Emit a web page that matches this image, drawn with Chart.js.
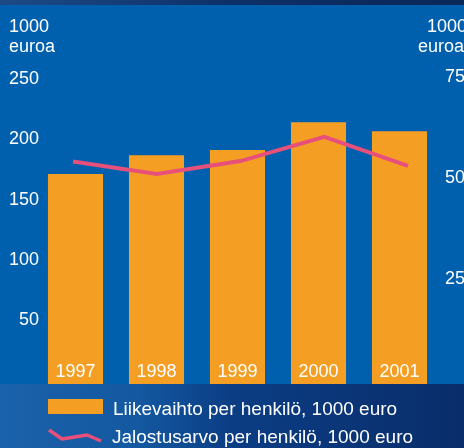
<!DOCTYPE html>
<html>
<head>
<meta charset="utf-8">
<script src="https://cdn.jsdelivr.net/npm/chart.js@4.4.1/dist/chart.umd.min.js"></script>
<style>
  html, body { margin: 0; padding: 0; background: #0a3a80; }
  canvas { display: block; }
</style>
</head>
<body>
<canvas id="chart" width="464" height="448"></canvas>
<script>
// data
const years = ["1997", "1998", "1999", "2000", "2001"];
const turnover = [169.5, 185, 189.5, 212.5, 205];      // Liikevaihto, left axis
const valueAdded = [53.7, 50.6, 53.8, 59.8, 52.6];     // Jalostusarvo, right axis
const leftTicks = [50, 100, 150, 200, 250];
const rightTicks = [25, 50, 75];
const unitLabel = ["1000", "euroa"];
const legendLabels = ["Liikevaihto per henkilö, 1000 euro", "Jalostusarvo per henkilö, 1000 euro"];

const orange = "#f49f23";
const pink = "#e6507a";
const panelBlue = "#0060ad";
const font = "'Liberation Sans', Arial, sans-serif";

const leftMin = -4.56, leftMax = 264;
const rightMin = -1.36, rightMax = 78.8;

// backgrounds, tick labels, unit labels, legend
const decor = {
    id: "decor",
    beforeDraw(chart) {
        const ctx = chart.ctx;
        const w = chart.width, h = chart.height;
        ctx.save();
        // top strip
        let g = ctx.createLinearGradient(0, 0, w, 0);
        g.addColorStop(0, "#1d4a86");
        g.addColorStop(0.5, "#0d3068");
        g.addColorStop(1, "#0a2858");
        ctx.fillStyle = g;
        ctx.fillRect(0, 0, w, 5);
        // main panel
        ctx.fillStyle = panelBlue;
        ctx.fillRect(0, 5, w, 379);
        // lower area
        g = ctx.createLinearGradient(0, 0, w, 0);
        g.addColorStop(0, "#1a62ab");
        g.addColorStop(0.3, "#1358a0");
        g.addColorStop(0.5, "#0b3d84");
        g.addColorStop(1, "#0a2d6a");
        ctx.fillStyle = g;
        ctx.fillRect(0, 384, w, h - 384);
        ctx.restore();
    },
    afterDraw(chart) {
        const ctx = chart.ctx;
        const yL = chart.scales.y, yR = chart.scales.y2;
        ctx.save();
        ctx.fillStyle = "#ffffff";
        ctx.textBaseline = "alphabetic";

        // tick labels
        ctx.font = "18px " + font;
        ctx.textAlign = "right";
        leftTicks.forEach(v => ctx.fillText(String(v), 39, yL.getPixelForValue(v) + 7));
        ctx.textAlign = "left";
        rightTicks.forEach(v => ctx.fillText(String(v), 445, yR.getPixelForValue(v) + 7));

        // units
        ctx.fillText(unitLabel[0], 9, 32);
        ctx.fillText(unitLabel[1], 9, 52);
        ctx.fillText(unitLabel[0], 427, 32);
        ctx.fillText(unitLabel[1], 418, 52);

        // year labels inside bars
        const meta = chart.getDatasetMeta(0);
        ctx.textAlign = "center";
        meta.data.forEach((bar, i) => {
            ctx.fillText(years[i], bar.x, 377);
        });

        // legend
        ctx.fillStyle = orange;
        ctx.fillRect(48, 399, 55, 15);
        ctx.strokeStyle = pink;
        ctx.lineWidth = 3.5;
        ctx.lineJoin = "round";
        ctx.beginPath();
        ctx.moveTo(49, 430);
        ctx.lineTo(62, 439);
        ctx.lineTo(87, 435);
        ctx.lineTo(101, 441);
        ctx.stroke();
        ctx.fillStyle = "#ffffff";
        ctx.textAlign = "left";
        ctx.font = "19px " + font;
        ctx.fillText(legendLabels[0], 113, 415);
        ctx.fillText(legendLabels[1], 112, 443);
        ctx.restore();
    }
};

new Chart(document.getElementById("chart"), {
    data: {
        labels: years,
        datasets: [
            {
                type: "bar",
                label: legendLabels[0],
                data: turnover,
                backgroundColor: orange,
                base: leftMin,
                grouped: false,
                barPercentage: 0.68,
                categoryPercentage: 1,
                yAxisID: "y",
                xAxisID: "x",
                order: 2
            },
            {
                type: "line",
                label: legendLabels[1],
                data: valueAdded.map((v, i) => ({ x: i, y: v })),
                borderColor: pink,
                borderWidth: 4,
                pointRadius: 0,
                tension: 0,
                fill: false,
                yAxisID: "y2",
                xAxisID: "x2",
                order: 1
            }
        ]
    },
    options: {
        responsive: false,
        devicePixelRatio: 1,
        animation: false,
        layout: { padding: { top: 60, bottom: 64, left: 0, right: 0 } },
        plugins: {
            legend: { display: false },
            title: { display: false },
            tooltip: { enabled: false }
        },
        scales: {
            x: { type: "category", display: false, offset: true },
            x2: { type: "linear", display: false, min: -0.4537, max: 4.382 },
            y: {
                position: "left",
                min: leftMin,
                max: leftMax,
                afterFit: (scale) => { scale.width = 35; },
                grid: { display: false, drawTicks: false },
                border: { display: false },
                ticks: { display: false }
            },
            y2: {
                position: "right",
                min: rightMin,
                max: rightMax,
                afterFit: (scale) => { scale.width = 24; },
                grid: { display: false, drawTicks: false },
                border: { display: false },
                ticks: { display: false }
            }
        }
    },
    plugins: [decor]
});
</script>
</body>
</html>
